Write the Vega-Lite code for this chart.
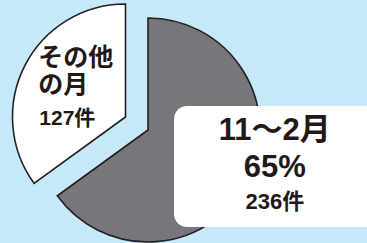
{
  "$schema": "https://vega.github.io/schema/vega-lite/v6.json",
  "width": 367,
  "height": 243,
  "padding": 0,
  "autosize": {"type": "none"},
  "background": "#c6e8f9",
  "view": {"stroke": null},
  "data": {
    "values": [
      {"cat": "11〜2月", "count": 236, "order": 1, "l1": ["11〜2月", "65%"], "l3": "236件"},
      {"cat": "その他の月", "count": 127, "order": 2, "l1": ["その他", "の月"], "l3": "127件"}
    ]
  },
  "encoding": {
    "theta": {"field": "count", "type": "quantitative", "stack": true},
    "order": {"field": "order", "type": "quantitative"}
  },
  "layer": [
    {
      "mark": {"type": "arc", "radius": 112, "xOffset": -35.5, "yOffset": 8.5, "stroke": "#231f20", "strokeWidth": 1.6},
      "encoding": {
        "color": {"field": "cat", "type": "nominal", "scale": {"domain": ["11〜2月", "その他の月"], "range": ["#77777b", "#ffffff"]}, "legend": null},
        "opacity": {"condition": {"test": "datum.order == 1", "value": 1}, "value": 0}
      }
    },
    {
      "mark": {"type": "arc", "radius": 113, "xOffset": -58, "yOffset": -4.5, "stroke": "#231f20", "strokeWidth": 1.6},
      "encoding": {
        "color": {"field": "cat", "type": "nominal", "legend": null},
        "opacity": {"condition": {"test": "datum.order == 2", "value": 1}, "value": 0}
      }
    },
    {
      "data": {"values": [{}]},
      "mark": {"type": "rect", "x": 174, "y": 106, "x2": 380, "y2": 227, "cornerRadius": 13, "fill": "#ffffff"},
      "encoding": {"theta": null, "order": null}
    },
    {
      "mark": {"type": "text", "radius": 130, "xOffset": -35.5, "yOffset": 8.5, "dx": 11, "dy": -58, "align": "center", "baseline": "middle", "lineHeight": 37, "font": "Liberation Sans, Noto Sans CJK JP", "fontWeight": "bold", "fontSize": 31, "fill": "#231815"},
      "encoding": {"text": {"condition": {"test": "datum.order == 1", "field": "l1"}, "value": ""}}
    },
    {
      "mark": {"type": "text", "radius": 130, "xOffset": -35.5, "yOffset": 8.5, "dx": 11, "dy": 13, "align": "center", "baseline": "middle", "font": "Liberation Sans, Noto Sans CJK JP", "fontWeight": "bold", "fontSize": 22, "fill": "#231815"},
      "encoding": {"text": {"condition": {"test": "datum.order == 1", "field": "l3"}, "value": ""}}
    },
    {
      "mark": {"type": "text", "radius": 62, "xOffset": -58, "yOffset": -4.5, "dx": -32, "dy": -31, "align": "left", "baseline": "middle", "lineHeight": 27, "font": "Liberation Sans, Noto Sans CJK JP", "fontWeight": "bold", "fontSize": 25, "fill": "#231815"},
      "encoding": {"text": {"condition": {"test": "datum.order == 2", "field": "l1"}, "value": ""}}
    },
    {
      "mark": {"type": "text", "radius": 62, "xOffset": -58, "yOffset": -4.5, "dx": -31, "dy": 30, "align": "left", "baseline": "middle", "font": "Liberation Sans, Noto Sans CJK JP", "fontWeight": "bold", "fontSize": 21, "fill": "#231815"},
      "encoding": {"text": {"condition": {"test": "datum.order == 2", "field": "l3"}, "value": ""}}
    }
  ]
}
